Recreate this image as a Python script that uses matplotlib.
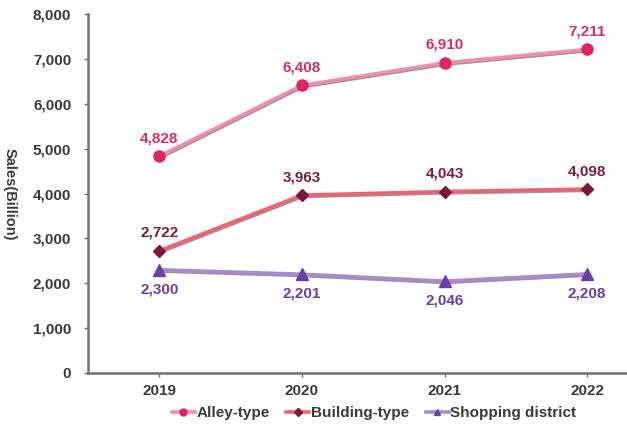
import matplotlib.pyplot as plt
import matplotlib.patheffects as pe
from matplotlib.ticker import FuncFormatter

years = ["2019", "2020", "2021", "2022"]
alley = [4828, 6408, 6910, 7211]
building = [2722, 3963, 4043, 4098]
shopping = [2300, 2201, 2046, 2208]

series = [
    # name, values, line color, marker, marker color, label color, label offset
    ("Alley-type", alley, "#EE8FA6", "o", "#E0245E", "#D2315C", 13),
    ("Building-type", building, "#EC6470", "D", "#7B1737", "#7A1E3A", 13),
    ("Shopping district", shopping, "#A48BD2", "^", "#6E3EA8", "#6A3FA0", -14),
]

plt.rcParams['font.family'] = ['Liberation Sans', 'DejaVu Sans']

fig = plt.figure(figsize=(6.27, 4.26), dpi=100)
ax = fig.add_axes([88 / 627, 53 / 426, 1 - 88 / 627, 359 / 426])

x = list(range(len(years)))
shadow = [pe.SimpleLineShadow(offset=(0.5, -0.9), shadow_color="#5a3040", alpha=0.55), pe.Normal()]
for name, vals, lc, mk, mc, tc, dy in series:
    # line with shadow, markers on top without it
    ax.plot(x, vals, color=lc, lw=2.6, path_effects=shadow, zorder=3)
    ax.plot(x, vals, linestyle="none", marker=mk, ms=8 if mk != "D" else 6.5,
            markerfacecolor=mc, markeredgecolor=mc, zorder=4)
    ax.plot([], [], color=lc, lw=2.6, marker=mk, ms=5 if mk != "D" else 4,
            markerfacecolor=mc, markeredgecolor=mc, label=name)
    for xi, v in zip(x, vals):
        ax.annotate(f"{v:,}", (xi, v), xytext=(0, dy), textcoords="offset points",
                    ha="center", va="center", color=tc, fontsize=11, fontweight="bold")

ax.set_xlim(-0.5, 3 + 40 / 143)
ax.set_ylim(0, 8000)
ax.set_xticks(x)
ax.set_xticklabels(years)
ax.set_yticks(range(0, 8001, 1000))
ax.yaxis.set_major_formatter(FuncFormatter(lambda v, p: f"{int(v):,}"))
ax.tick_params(axis="both", colors="#707070", length=3, width=1, labelcolor="#3a3a3a",
               labelsize=11)
ax.tick_params(axis="y", pad=9)
ax.tick_params(axis="x", pad=5)
for lab in ax.get_xticklabels() + ax.get_yticklabels():
    lab.set_fontweight("bold")

for s in ["top", "right"]:
    ax.spines[s].set_visible(False)
for s in ["left", "bottom"]:
    ax.spines[s].set_color("#707070")
    ax.spines[s].set_linewidth(1.8)

fig.text(10 / 627, 0.545, "Sales(Billion)", rotation=-90, ha="center", va="center",
         fontsize=10.5, fontweight="bold", color="#3a3a3a")

leg = ax.legend(loc="center", ncol=3, frameon=False, fontsize=11, handlelength=1.5,
                handletextpad=0.1, columnspacing=1.1)
leg.set_bbox_to_anchor((374 / 627, 13 / 426), transform=fig.transFigure)
for t in leg.get_texts():
    t.set_color("#3a3a3a")
    t.set_fontweight("bold")

fig.savefig("out.png", dpi=100)
